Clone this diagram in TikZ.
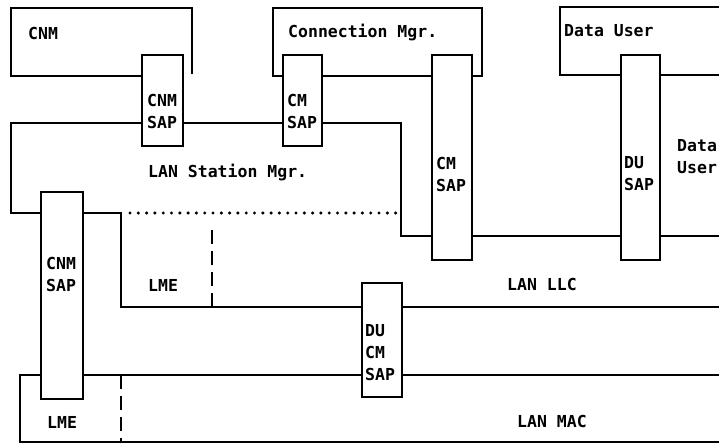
\documentclass[tikz,border=0pt]{standalone}
\usepackage{fontspec}
\newfontfamily\dmono{DejaVu Sans Mono}
\begin{document}
\begin{tikzpicture}[x=1pt,y=-1pt,
  line/.style={line width=1.4pt, line join=miter},
  sapbox/.style={draw, line width=1.4pt, rectangle, inner sep=0pt, fill=white},
  lbl/.style={font=\dmono\bfseries\fontsize{16.5}{22}\selectfont, inner sep=0pt, align=left},
  lmedash/.style={line width=1.4pt, dash pattern=on 14pt off 7pt},
  dots/.style={line width=3.4pt, line cap=round, dash pattern=on 0pt off 8.3pt}]
\useasboundingbox (0,0) rectangle (719,444);
% SAP boxes
\node[sapbox, minimum width=41pt, minimum height=91pt] (cnmsapA) at (162.5,100.5) {};
\node[sapbox, minimum width=39pt, minimum height=91pt] (cmsapA) at (302.5,100.5) {};
\node[sapbox, minimum width=40pt, minimum height=205pt] (cmsapB) at (452,157.5) {};
\node[sapbox, minimum width=39pt, minimum height=205pt] (dusap) at (640.5,157.5) {};
\node[sapbox, minimum width=42pt, minimum height=207pt] (cnmsapB) at (62,295.5) {};
\node[sapbox, minimum width=40pt, minimum height=114pt] (ducmsap) at (382,340) {};
% CNM box
\draw[line] (cnmsapA.west |- 0,76) -- (11,76) -- (11,8) -- (192,8) -- (192,74);
% Connection Mgr box
\draw[line] (cmsapA.west |- 0,76) -- (273,76) -- (273,8) -- (482,8) -- (482,76) -- (cmsapB.east |- 0,76);
\draw[line] (cmsapA.east |- 0,76) -- (cmsapB.west |- 0,76);
% Data User box
\draw[line] (dusap.west |- 0,75) -- (560,75) -- (560,7) -- (719,7);
\draw[line] (dusap.east |- 0,75) -- (719,75);
% LAN Station Mgr
\draw[line] (cnmsapA.west |- 0,123) -- (11,123) -- (11,213) -- (cnmsapB.west |- 0,213);
\draw[line] (cnmsapA.east |- 0,123) -- (cmsapA.west |- 0,123);
\draw[line] (cmsapA.east |- 0,123) -- (401,123) -- (401,236) -- (cmsapB.west |- 0,236);
\draw[line] (cmsapB.east |- 0,236) -- (dusap.west |- 0,236);
\draw[line] (dusap.east |- 0,236) -- (719,236);
\draw[line] (cnmsapB.east |- 0,213) -- (121,213) -- (121,307) -- (ducmsap.west |- 0,307);
\draw[line] (ducmsap.east |- 0,307) -- (719,307);
\draw[dots] (130,213) -- (397,213);
\draw[lmedash] (212,230) -- (212,307);
% LAN MAC
\draw[line] (cnmsapB.west |- 0,375) -- (20,375) -- (20,442) -- (719,442);
\draw[line] (cnmsapB.east |- 0,375) -- (ducmsap.west |- 0,375);
\draw[line] (ducmsap.east |- 0,375) -- (719,375);
\draw[lmedash] (121,375) -- (121,442);
% labels
\node[lbl, anchor=west] (tcnm) at (28,33) {CNM};
\node[lbl, anchor=west] (tcm) at (288,33) {Connection Mgr.};
\node[lbl, anchor=west] (tdu) at (564,31) {Data User};
\node[lbl, anchor=west] (tcnmsapA) at (147,111) {CNM\\SAP};
\node[lbl, anchor=west] (tcmsapA) at (287,111) {CM\\SAP};
\node[lbl, anchor=west] (tlsm) at (148,172) {LAN Station Mgr.};
\node[lbl, anchor=west] (tcmsapB) at (436,174) {CM\\SAP};
\node[lbl, anchor=west] (tdusap) at (624,174) {DU\\SAP};
\node[lbl, anchor=west] (tdu2) at (677,157) {Data\\User};
\node[lbl, anchor=west] (tcnmsapB) at (46,274) {CNM\\SAP};
\node[lbl, anchor=west] (tlmeA) at (148,285) {LME};
\node[lbl, anchor=west] (tllc) at (507,284) {LAN LLC};
\node[lbl, anchor=west] (tducm) at (365,353) {DU\\CM\\SAP};
\node[lbl, anchor=west] (tlmeB) at (47,422) {LME};
\node[lbl, anchor=west] (tmac) at (517,421) {LAN MAC};
\end{tikzpicture}
\end{document}
